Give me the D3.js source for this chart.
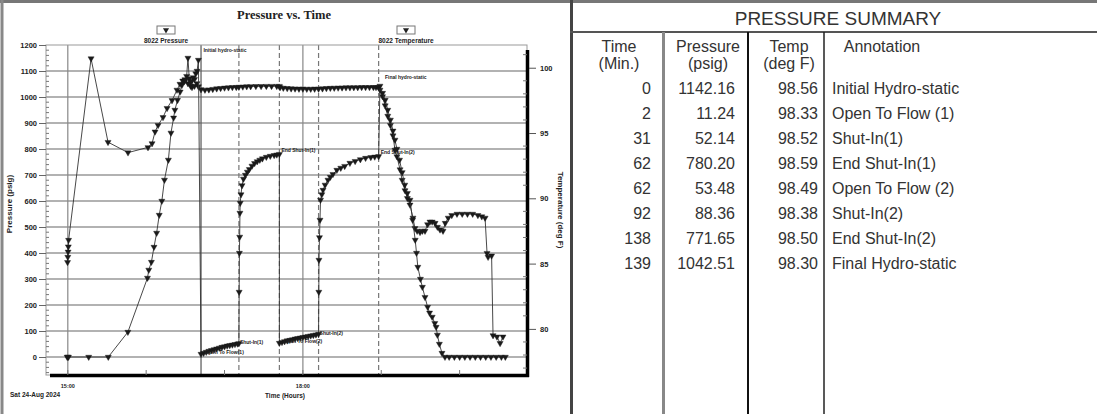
<!DOCTYPE html>
<html>
<head>
<meta charset="utf-8">
<script src="https://cdn.jsdelivr.net/npm/d3@7"></script>
<style>
  html, body { margin: 0; padding: 0; background: #fff; }
  svg { display: block; font-family: "Liberation Sans", Arial, sans-serif; }
</style>
</head>
<body>
<svg id="chart" width="1097" height="414"></svg>
<script>
// minutes from the initial hydrostatic reading, psig
const pressureSeries = [
  [-100.5, 0], [-100, 0], [-99.5, 0], [-84, 0], [-69, 0], [-54, 96], [-39, 304], [-38, 335],
  [-36, 365], [-34, 423], [-32, 477], [-30, 546], [-28, 600], [-26, 681], [-23, 758], [-21, 862],
  [-19, 920], [-18, 950], [-16, 988], [-14, 1020], [-12.6, 1046], [-11, 1060], [-10, 1065],
  [-9, 1080], [-8, 1150], [-7, 1070], [-6, 1058], [-5, 1062], [-4, 1075], [-3, 1068], [-2, 1090],
  [-1, 1100], [0, 1142.16],
  [2, 11.24], [4, 15], [6, 19], [8, 23], [10, 26], [12, 29], [14, 32], [16, 35], [18, 38],
  [20, 40], [22, 43], [24, 45], [26, 47], [28, 49], [30, 51], [31, 52.14],
  [31.2, 250], [31.4, 400], [31.6, 462], [31.8, 554], [32, 592], [32.6, 625], [33.4, 660],
  [34.5, 685], [36, 700], [37.5, 712], [39, 722], [41, 735], [43, 745], [45, 752], [47, 758],
  [49, 763], [52, 769], [55, 773], [58, 776], [60, 778], [62, 780.2],
  [62, 53.48], [64, 57], [66, 60], [68, 63], [70, 65], [72, 67], [74, 70], [76, 72], [78, 74],
  [80, 76], [82, 78], [84, 80], [86, 82], [88, 84], [90, 86], [92, 88.36],
  [92.2, 250], [92.3, 373], [92.7, 460], [93.1, 527], [93.5, 604], [94.5, 625], [95.4, 642],
  [97, 662], [99.2, 681], [101, 692], [103, 703], [106, 719], [109, 727], [112, 734], [116, 746],
  [120, 753], [124, 760], [128, 765], [132, 768], [135, 770], [138, 771.65],
  [139, 1042.51], [141, 1015], [143, 988], [145, 950], [147, 912], [149, 870], [150.5, 835],
  [152, 800], [154, 758], [156, 710], [158, 662], [160, 630], [162, 604], [164, 527], [166, 450],
  [167, 400], [168, 346], [170, 300], [171.5, 269], [173.5, 230], [175.5, 192], [177, 170],
  [179, 154], [181, 130], [182, 115], [183, 85], [184.5, 50], [186.5, 15], [188.8, 0], [192, 0],
  [196, 0], [200, 0], [204, 0], [208, 0], [212, 0], [216, 0], [220, 0], [224, 0], [228, 0],
  [232, 0], [235, 0]
];

// minutes from the initial hydrostatic reading, deg F
const temperatureSeries = [
  [-100.2, 85.1], [-100, 85.5], [-99.8, 85.9], [-99.6, 86.3], [-99.4, 86.8], [-82.2, 100.7],
  [-69.2, 94.3], [-53.9, 93.5], [-38.6, 93.9], [-35.5, 94.2], [-33.2, 95.1], [-30.9, 95.6],
  [-27.1, 96.2], [-24, 96.9], [-20.2, 97.5], [-16.4, 98.3], [-14.1, 98.75], [-12, 99.0],
  [-10.3, 99.1], [-8, 98.8], [-6, 98.6], [-4.9, 98.5], [-3, 98.6], [-1.1, 98.8], [0, 98.56],
  [2, 98.33], [5, 98.30], [8, 98.32], [11, 98.36], [14, 98.40], [17, 98.43], [20, 98.46],
  [23, 98.48], [26, 98.50], [29, 98.51], [31, 98.52], [34, 98.54], [37, 98.56], [40, 98.57],
  [44, 98.58], [48, 98.58], [52, 98.59], [56, 98.59], [60, 98.59], [62, 98.59], [62.5, 98.49],
  [65, 98.45], [68, 98.42], [71, 98.40], [74, 98.39], [77, 98.38], [80, 98.38], [83, 98.37],
  [86, 98.37], [89, 98.38], [92, 98.38], [95, 98.40], [98, 98.42], [101, 98.44], [104, 98.45],
  [107, 98.46], [110, 98.47], [113, 98.48], [116, 98.48], [119, 98.49], [122, 98.49],
  [125, 98.50], [128, 98.50], [131, 98.50], [134, 98.50], [136, 98.50], [138, 98.50], [139, 98.30],
  [141, 97.8], [143, 97.1], [145, 96.3], [147, 95.6], [149, 94.8], [150.5, 93.7], [152, 93.2],
  [154.4, 92.2], [156, 91.4], [158.2, 90.6], [160, 90.0], [162, 89.5], [164.3, 88.5],
  [165.8, 87.7], [167.5, 87.5], [169.7, 87.4], [171.5, 87.5], [173.5, 87.5], [175.5, 88.0],
  [177.3, 88.2], [179, 88.2], [181.2, 88.1], [183, 87.8], [185, 87.6], [187.3, 87.5], [189, 88.1],
  [191.3, 88.5], [194, 88.7], [198, 88.8], [202, 88.8], [206, 88.8], [210, 88.8], [214, 88.7],
  [217, 88.6], [219.5, 88.5], [221, 85.8], [221.8, 85.5], [224.5, 85.6], [225.6, 79.5],
  [228.6, 79.4], [231, 78.9], [233.2, 79.4]
];

const psiTicks = [0, 100, 200, 300, 400, 500, 600, 700, 800, 900, 1000, 1100, 1200];
const tempTicks = [80, 85, 90, 95, 100];

const summaryTime = [0, 2, 31, 62, 62, 92, 138, 139];
const summaryPressure = ['1142.16', '11.24', '52.14', '780.20', '53.48', '88.36', '771.65', '1042.51'];
const summaryTemp = ['98.56', '98.33', '98.52', '98.59', '98.49', '98.38', '98.50', '98.30'];
const summaryAnnotation = [
  'Initial Hydro-static', 'Open To Flow (1)', 'Shut-In(1)', 'End Shut-In(1)',
  'Open To Flow (2)', 'Shut-In(2)', 'End Shut-In(2)', 'Final Hydro-static'
];
const chartNotes = [
  'Initial hydro-static', 'Open To Flow(1)', 'Shut-In(1)', 'End Shut-In(1)',
  'Open To Flow(2)', 'Shut-In(2)', 'End Shut-In(2)', 'Final hydro-static'
];

const svg = d3.select('#chart');
const testStart = new Date(2024, 7, 24, 16, 40);
const at = m => new Date(testStart.getTime() + m * 60000);

const plot = { left: 46, top: 45, right: 527, bottom: 375 };

const x = d3.scaleTime()
  .domain([at(-116.7), at(251.6)])
  .range([plot.left, plot.right]);
const y = d3.scaleLinear().domain([-69.2, 1200]).range([plot.bottom, plot.top]);
const yT = d3.scaleLinear().domain([76.47, 101.74]).range([plot.bottom, plot.top]);

svg.append('rect').attr('width', 1097).attr('height', 414).attr('fill', '#fff');

// ---- left panel frame
svg.append('line').attr('x1', 0).attr('x2', 1097).attr('y1', 1.5).attr('y2', 1.5)
  .attr('stroke', '#777').attr('stroke-width', 3);
svg.append('line').attr('x1', 2).attr('x2', 2).attr('y1', 0).attr('y2', 414)
  .attr('stroke', '#888').attr('stroke-width', 3);

svg.append('text')
  .attr('x', 284).attr('y', 19)
  .attr('text-anchor', 'middle')
  .attr('font-family', '"Liberation Serif", "Times New Roman", serif')
  .attr('font-weight', 'bold').attr('font-size', 12.5)
  .attr('fill', '#222')
  .text('Pressure vs. Time');

// ---- grid
const grid = svg.append('g');
grid.selectAll('line.h')
  .data(psiTicks.filter(d => d < 1200))
  .join('line')
  .attr('x1', plot.left).attr('x2', plot.right)
  .attr('y1', d => y(d)).attr('y2', d => y(d))
  .attr('stroke', '#999').attr('stroke-width', 1.5);

const hourTicks = x.ticks(d3.timeHour.every(1));
const labelHours = hourTicks.filter(d => d.getHours() % 3 === 0);
grid.selectAll('line.v')
  .data(labelHours)
  .join('line')
  .attr('x1', d => x(d)).attr('x2', d => x(d))
  .attr('y1', plot.top).attr('y2', plot.bottom)
  .attr('stroke', '#888').attr('stroke-width', 1.2);

const eventTimes = [2, 31, 62, 92, 138];
grid.selectAll('line.ev')
  .data(eventTimes)
  .join('line')
  .attr('x1', d => x(at(d))).attr('x2', d => x(at(d)))
  .attr('y1', plot.top).attr('y2', plot.bottom)
  .attr('stroke', (d, i) => (i === 0 ? '#555' : '#777'))
  .attr('stroke-width', 1.2)
  .attr('stroke-dasharray', (d, i) => (i === 0 ? null : '5,3'));

// plot box with heavy right/bottom edge
svg.append('rect')
  .attr('x', plot.left).attr('y', plot.top)
  .attr('width', plot.right - plot.left).attr('height', plot.bottom - plot.top)
  .attr('fill', 'none').attr('stroke', '#999').attr('stroke-width', 1);
svg.append('line').attr('x1', plot.left + 4).attr('x2', plot.right + 2)
  .attr('y1', plot.bottom + 0.5).attr('y2', plot.bottom + 0.5)
  .attr('stroke', '#000').attr('stroke-width', 3.5);
svg.append('line').attr('x1', plot.right + 0.5).attr('x2', plot.right + 0.5)
  .attr('y1', plot.top + 5).attr('y2', plot.bottom + 2)
  .attr('stroke', '#000').attr('stroke-width', 3.5);

// ---- axes
const axisFont = g => g.selectAll('text')
  .attr('font-family', '"Liberation Sans", Arial, sans-serif')
  .attr('font-weight', 'bold').attr('fill', '#222');

const leftAxis = svg.append('g')
  .attr('transform', `translate(${plot.left},0)`)
  .call(d3.axisLeft(y).tickValues(psiTicks).tickFormat(d3.format('d')).tickSize(7).tickPadding(2))
  .attr('font-size', 7.5)
  .call(g => g.select('.domain').remove())
  .call(g => g.selectAll('.tick line').attr('stroke', '#666'))
  .call(axisFont);
leftAxis.selectAll('line.minor')
  .data(d3.range(-60, 1200, 20).filter(d => d % 100 !== 0))
  .join('line')
  .attr('x1', 0).attr('x2', 3)
  .attr('y1', d => y(d)).attr('y2', d => y(d))
  .attr('stroke', '#777');

const rightAxis = svg.append('g')
  .attr('transform', `translate(${plot.right + 2},0)`)
  .call(d3.axisRight(yT).tickValues(tempTicks).tickSize(7).tickPadding(4))
  .attr('font-size', 7.5)
  .call(g => g.select('.domain').remove())
  .call(g => g.selectAll('.tick line').attr('stroke', '#555'))
  .call(axisFont);
rightAxis.selectAll('line.minor')
  .data(d3.range(77, 102, 1).filter(d => d % 5 !== 0))
  .join('line')
  .attr('x1', -6).attr('x2', -2)
  .attr('y1', d => yT(d)).attr('y2', d => yT(d))
  .attr('stroke', '#777');

const bottomAxis = svg.append('g')
  .attr('transform', `translate(0,${plot.bottom})`);
bottomAxis.selectAll('line')
  .data(hourTicks)
  .join('line')
  .attr('x1', d => x(d)).attr('x2', d => x(d))
  .attr('y1', -5).attr('y2', 0)
  .attr('stroke', '#777');
bottomAxis.selectAll('text')
  .data(labelHours)
  .join('text')
  .attr('x', d => x(d)).attr('y', 13)
  .attr('text-anchor', 'middle')
  .attr('font-size', 5.5).attr('font-weight', 'bold').attr('fill', '#222')
  .text(d3.timeFormat('%H:%M'));

svg.append('text')
  .attr('x', 10).attr('y', 397)
  .attr('font-size', 6.5).attr('font-weight', 'bold').attr('fill', '#222')
  .text(d3.timeFormat('%a %d-%b %Y')(testStart));
svg.append('text')
  .attr('x', 285).attr('y', 398)
  .attr('text-anchor', 'middle')
  .attr('font-size', 6.5).attr('font-weight', 'bold').attr('fill', '#222')
  .text('Time (Hours)');
svg.append('text')
  .attr('transform', 'translate(12,204) rotate(-90)')
  .attr('text-anchor', 'middle')
  .attr('font-size', 8).attr('font-weight', 'bold').attr('fill', '#222')
  .text('Pressure (psig)');
svg.append('text')
  .attr('transform', 'translate(558,210) rotate(90)')
  .attr('text-anchor', 'middle')
  .attr('font-size', 8).attr('font-weight', 'bold').attr('fill', '#222')
  .text('Temperature (deg F)');

// ---- legend
const marker = d3.symbol().type(d3.symbolTriangle).size(16);
const legendItems = [
  { cx: 166, name: '8022 Pressure' },
  { cx: 406, name: '8022 Temperature' }
];
const legend = svg.selectAll('g.legend')
  .data(legendItems)
  .join('g')
  .attr('transform', d => `translate(${d.cx},0)`);
legend.append('rect')
  .attr('x', -9).attr('y', 26).attr('width', 18).attr('height', 8)
  .attr('fill', '#fff').attr('stroke', '#777');
legend.append('path')
  .attr('d', marker)
  .attr('transform', 'translate(0,30) rotate(180)')
  .attr('fill', '#222');
legend.append('text')
  .attr('y', 43)
  .attr('text-anchor', 'middle')
  .attr('font-size', 6.5).attr('font-weight', 'bold').attr('fill', '#222')
  .text(d => d.name);

// ---- series
const line = yScale => d3.line()
  .x(d => x(at(d[0])))
  .y(d => yScale(d[1]));

const series = [
  { data: temperatureSeries, scale: yT },
  { data: pressureSeries, scale: y }
];
series.forEach(s => {
  svg.append('path')
    .datum(s.data)
    .attr('fill', 'none')
    .attr('stroke', '#333')
    .attr('stroke-width', 0.9)
    .attr('d', line(s.scale));
  svg.append('g')
    .selectAll('path')
    .data(s.data)
    .join('path')
    .attr('d', marker)
    .attr('transform', d => `translate(${x(at(d[0]))},${s.scale(d[1])}) rotate(180)`)
    .attr('fill', '#1a1a1a')
    .attr('stroke', '#1a1a1a')
    .attr('stroke-width', 0.4);
});

// event notes next to the summary points
const noteOffset = [[5, -8], [4, 0], [1, 1], [2, -2], [4, 0], [1, 1], [2, -2], [5, -7]];
svg.append('g')
  .selectAll('text')
  .data(summaryTime)
  .join('text')
  .attr('x', (d, i) => x(at(d)) + noteOffset[i][0])
  .attr('y', (d, i) => y(+summaryPressure[i]) + noteOffset[i][1])
  .attr('font-size', 5).attr('font-weight', 'bold').attr('fill', '#222')
  .text((d, i) => chartNotes[i]);

// ---- summary table
const table = svg.append('g').attr('fill', '#333').attr('font-size', 16);
const tLine = (x1, y1, x2, y2, color, w) => table.append('line')
  .attr('x1', x1).attr('y1', y1).attr('x2', x2).attr('y2', y2)
  .attr('stroke', color).attr('stroke-width', w);

tLine(571.5, 0, 571.5, 414, '#444', 3);
tLine(570, 32, 1097, 32, '#555', 2);
tLine(663.5, 32, 663.5, 414, '#888', 3);
tLine(748, 32, 748, 414, '#111', 2);
tLine(824, 32, 824, 414, '#222', 1.5);

table.append('text')
  .attr('x', 838).attr('y', 25)
  .attr('text-anchor', 'middle')
  .attr('font-size', 19)
  .text('PRESSURE SUMMARY');

const headers = [
  { x: 619, lines: ['Time', '(Min.)'] },
  { x: 708, lines: ['Pressure', '(psig)'] },
  { x: 789, lines: ['Temp', '(deg F)'] },
  { x: 882, lines: ['Annotation'] }
];
headers.forEach(h => {
  h.lines.forEach((t, i) => {
    table.append('text')
      .attr('x', h.x).attr('y', 52 + i * 17)
      .attr('text-anchor', 'middle')
      .text(t);
  });
});

const rowY = i => 94 + i * 25;
const rows = table.selectAll('g.row')
  .data(summaryTime)
  .join('g')
  .attr('transform', (d, i) => `translate(0,${rowY(i)})`);
rows.append('text').attr('x', 651).attr('text-anchor', 'end').text(d => d);
rows.append('text').attr('x', 735).attr('text-anchor', 'end').text((d, i) => summaryPressure[i]);
rows.append('text').attr('x', 818).attr('text-anchor', 'end').text((d, i) => summaryTemp[i]);
rows.append('text').attr('x', 832).text((d, i) => summaryAnnotation[i]);
</script>
</body>
</html>
